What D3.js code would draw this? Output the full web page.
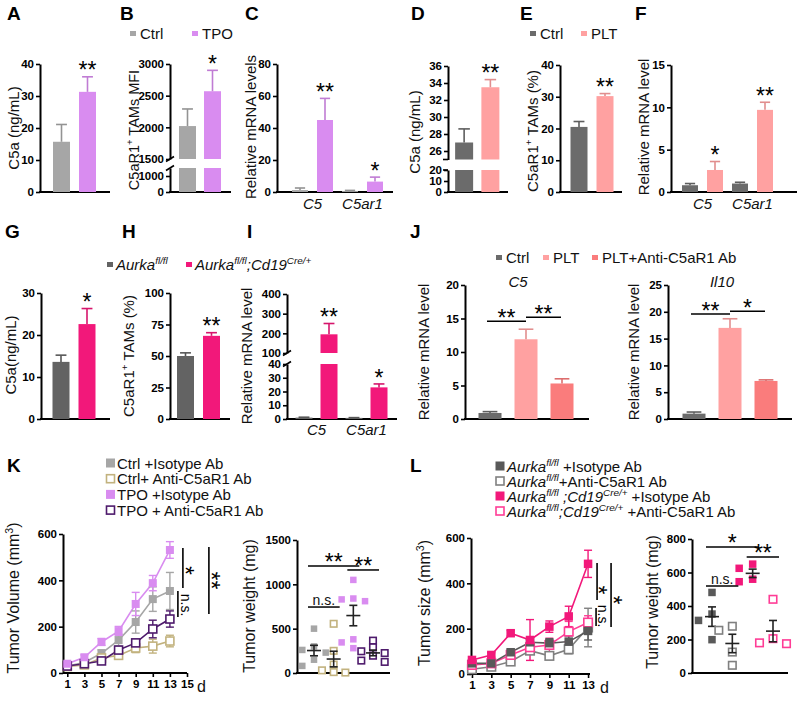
<!DOCTYPE html>
<html><head><meta charset="utf-8">
<script src="https://cdn.jsdelivr.net/npm/d3@7"></script>
<style>body{margin:0;background:#fff}svg{display:block}</style>
</head><body>
<svg id="chart" width="798" height="701"></svg>
<script>
// ================= DATA =================
const groupsTPO = ["Ctrl", "TPO"];
const groupsPLT = ["Ctrl", "PLT"];
const groupsAurka = ["Aurka fl/fl", "Aurka fl/fl;Cd19 Cre/+"];
const genes = ["C5", "C5ar1"];

const c5aA = [15.7, 31.3], c5aA_sem = [5.4, 4.7], c5aA_sig = ["", "**"];
const mfiB = [2020, 2570], mfiB_sem = [270, 330], mfiB_sig = ["", "*"];
const mrnaC_ctrl = [1.2, 0.6], mrnaC_ctrl_sem = [1.3, 0.4];
const mrnaC_tpo = [45, 6.5], mrnaC_tpo_sem = [13.5, 2.8], mrnaC_sig = ["**", "*"];
const c5aD = [27.0, 33.5], c5aD_sem = [1.6, 0.9], c5aD_sig = ["", "**"];
const tamE = [20.5, 30.2], tamE_sem = [1.7, 0.8], tamE_sig = ["", "**"];
const mrnaF_ctrl = [0.8, 1.0], mrnaF_ctrl_sem = [0.2, 0.15];
const mrnaF_plt = [2.6, 9.7], mrnaF_plt_sem = [1.0, 0.9], mrnaF_sig = ["*", "**"];
const c5aG = [13.6, 22.6], c5aG_sem = [1.6, 3.7], c5aG_sig = ["", "*"];
const tamH = [50, 66], tamH_sem = [2.5, 2.5], tamH_sig = ["", "**"];
const mrnaI_ctrl = [1.0, 0.8], mrnaI_ctrl_sem = [0.3, 0.2];
const mrnaI_cre = [195, 23], mrnaI_cre_sem = [55, 2.5], mrnaI_sig = ["**", "*"];
const groupsJ = ["Ctrl", "PLT", "PLT+Anti-C5aR1 Ab"];
const c5J = [0.9, 11.9, 5.3], c5J_sem = [0.2, 1.5, 0.7];
const il10J = [1.0, 17.0, 7.1], il10J_sem = [0.3, 1.7, 0.2];
const c5J_sig = [{a: 0, b: 1, level: 14.6, label: "**"}, {a: 1, b: 2, level: 15.2, label: "**"}];
const il10J_sig = [{a: 0, b: 1, level: 19.6, label: "**"}, {a: 1, b: 2, level: 20.1, label: "*"}];

const days = [1, 3, 5, 7, 9, 11, 13];
const seriesK = ["Ctrl +Isotype Ab", "Ctrl+ Anti-C5aR1 Ab", "TPO +Isotype Ab", "TPO + Anti-C5aR1 Ab"];
const volK_ctrlIso = [30, 45, 85, 142, 220, 319, 354], volK_ctrlIso_sem = [8, 10, 15, 25, 48, 53, 80];
const volK_ctrlAnti = [28, 35, 65, 76, 108, 116, 138], volK_ctrlAnti_sem = [5, 5, 10, 15, 20, 30, 25];
const volK_tpoIso = [40, 68, 134, 181, 298, 388, 531], volK_tpoIso_sem = [6, 10, 15, 20, 50, 33, 36];
const volK_tpoAnti = [30, 40, 52, 99, 130, 190, 233], volK_tpoAnti_sem = [5, 5, 8, 12, 15, 38, 35];
const wK_ctrlIso = [500, 300, 260, 230, 150, 80];
const wK_ctrlAnti = [555, 250, 95, 30, 10, 5];
const wK_tpoIso = [1050, 840, 830, 810, 380, 345, 280];
const wK_tpoAnti = [365, 290, 245, 225, 195, 140, 125];
const wK_sig = [{a: 0, b: 2, level: 1207, label: "**"}, {a: 2, b: 3, level: 1162, label: "**"}, {a: 0, b: 1, level: 744, label: "n.s."}];

const seriesL = ["Aurka fl/fl +Isotype Ab", "Aurka fl/fl+Anti-C5aR1 Ab", "Aurka fl/fl;Cd19 Cre/+ +Isotype Ab", "Aurka fl/fl;Cd19 Cre/+ +Anti-C5aR1 Ab"];
const volL_aurIso = [47, 47, 96, 140, 136, 143, 190], volL_aurIso_sem = [10, 8, 12, 15, 20, 25, 40];
const volL_aurAnti = [21, 32, 55, 103, 80, 109, 205], volL_aurAnti_sem = [5, 6, 8, 15, 15, 20, 85];
const volL_creIso = [62, 84, 180, 150, 209, 254, 486], volL_creIso_sem = [6, 10, 12, 90, 25, 45, 60];
const volL_creAnti = [40, 47, 84, 118, 128, 187, 227], volL_creAnti_sem = [5, 6, 10, 15, 30, 45, 30];
const wL_aurIso = [481, 352, 314, 199];
const wL_aurAnti = [279, 255, 125, 46];
const wL_creIso = [650, 625, 560, 545];
const wL_creAnti = [440, 205, 180, 175];
const wL_sig = [{a: 0, b: 2, level: 752, label: "*"}, {a: 2, b: 3, level: 692, label: "**"}, {a: 0, b: 1, level: 519, label: "n.s."}];

const ticksA = [0, 10, 20, 30, 40];
const ticksB_low = [0, 1000], ticksB_high = [1500, 2000, 2500, 3000];
const ticksC = [0, 20, 40, 60, 80];
const ticksD_low = [0, 10, 20], ticksD_high = [26, 28, 30, 32, 34, 36];
const ticksE = [0, 10, 20, 30, 40];
const ticksF = [0, 5, 10, 15];
const ticksG = [0, 10, 20, 30];
const ticksH = [0, 25, 50, 75, 100];
const ticksI_low = [0, 10, 20, 30, 40], ticksI_high = [100, 200, 300, 400];
const ticksJ_c5 = [0, 5, 10, 15, 20], ticksJ_il10 = [0, 5, 10, 15, 20, 25];
const ticksK_vol = [0, 200, 400, 600], ticksK_day = [1, 3, 5, 7, 9, 11, 13, 15];
const ticksK_w = [0, 500, 1000, 1500];
const ticksL_vol = [0, 200, 400, 600], ticksL_day = [1, 3, 5, 7, 9, 11, 13];
const ticksL_w = [0, 200, 400, 600, 800];

// ================= STYLE =================
const FONT = "'Liberation Sans', Arial, Helvetica, sans-serif";
const COL = {
  grayA: "#a6a6a6", tpo: "#d98cf0", dgray: "#6b6b6b", plt: "#ffa1a1", anti: "#fa7c7c",
  aur: "#636363", cre: "#f2187a", tan: "#c2b27e", purple: "#4e1a6c",
  lgrayOpen: "#808080", pinkOpen: "#ff3d96", aurL: "#595959"
};
const svg = d3.select("#chart");

function rich(t, parts, size) {
  let shift = 0;
  parts.forEach(p => {
    const ts = t.append("tspan").text(p.t);
    const target = p.sup ? -size * 0.38 : 0;
    if (target !== shift) { ts.attr("dy", target - shift); shift = target; }
    ts.attr("font-size", p.sup ? size * 0.66 : size);
    if (p.it) ts.attr("font-style", "italic");
  });
}
function addText(x, y, str, o = {}) {
  const size = o.size || 15;
  const t = svg.append("text").attr("x", x).attr("y", y)
    .attr("font-family", FONT).attr("font-size", size)
    .attr("font-weight", o.weight || "normal").attr("fill", o.fill || "#111")
    .attr("text-anchor", o.anchor || "start");
  if (o.italic) t.attr("font-style", "italic");
  if (o.dy) t.attr("dy", o.dy);
  if (o.rotate != null) t.attr("transform", `rotate(${o.rotate},${x},${y})`);
  if (Array.isArray(str)) rich(t, str, size); else t.text(str);
  return t;
}
function styleAxis(ax) {
  ax.select(".domain").attr("stroke", "#000").attr("stroke-width", 2);
  ax.selectAll(".tick line").attr("stroke", "#000").attr("stroke-width", 1.6);
  ax.selectAll(".tick text").attr("font-family", FONT).attr("font-size", 11.5)
    .attr("font-weight", "bold").attr("fill", "#000");
}
function yAxis(x, scale, ticks) {
  const ax = svg.append("g").attr("transform", `translate(${x},0)`)
    .call(d3.axisLeft(scale).tickValues(ticks).tickSize(4).tickSizeOuter(0).tickPadding(2).tickFormat(d3.format("d")));
  styleAxis(ax);
  return ax;
}
function hline(x1, x2, y, w = 2, c = "#000") {
  svg.append("line").attr("x1", x1).attr("x2", x2).attr("y1", y).attr("y2", y).attr("stroke", c).attr("stroke-width", w);
}
function vline(x, y1, y2, w = 1.6, c = "#000") {
  svg.append("line").attr("x1", x).attr("x2", x).attr("y1", y1).attr("y2", y2).attr("stroke", c).attr("stroke-width", w);
}
function star(x, y, label, rot) {
  const isStar = label.indexOf("*") >= 0;
  const t = addText(x, y, label, {size: isStar ? 23 : 14, anchor: "middle", dy: isStar ? "0.55em" : "0.3em", fill: "#000"});
  if (rot) t.attr("transform", `rotate(90,${x},${y})`);
}

// bar panel with optional broken axis
function barPanel(o) {
  const segs = o.segs.map(s => Object.assign({}, s, {sc: d3.scaleLinear().domain(s.domain).range(s.range)}));
  segs.forEach(s => yAxis(o.axisX, s.sc, s.ticks));
  if (segs.length > 1) {
    const yLowTop = segs[0].sc(segs[0].domain[1]), yHighBot = segs[1].sc(segs[1].domain[0]);
    [yLowTop, yHighBot].forEach(y => {
      if (o.brk === "flat") hline(o.axisX - 5, o.axisX, y, 1.6);
      else svg.append("line").attr("x1", o.axisX - 4).attr("x2", o.axisX + 4).attr("y1", y + 2.5).attr("y2", y - 2.5).attr("stroke", "#000").attr("stroke-width", 1.6);
    });
  }
  const base = segs[0].sc(segs[0].domain[0]);
  hline(o.axisX - 1, o.xEnd, base, 2);
  o.bars.forEach(b => {
    segs.forEach(s => {
      const lo = s.domain[0], hi = s.domain[1];
      if (b.v <= lo) return;
      const top = Math.min(b.v, hi);
      svg.append("rect").attr("x", b.cx - o.barW / 2).attr("width", o.barW)
        .attr("y", s.sc(top)).attr("height", s.sc(lo) - s.sc(top)).attr("fill", b.color);
    });
    const s = segs.find(s => b.v >= s.domain[0] && b.v <= s.domain[1]) || segs[segs.length - 1];
    const ec = d3.color(b.color).darker(0.35).formatHex();
    const yv = s.sc(b.v), ye = s.sc(b.v + b.e);
    vline(b.cx, yv, ye, 1.6, ec);
    hline(b.cx - o.barW * 0.32, b.cx + o.barW * 0.32, ye, 1.6, ec);
    if (b.sig) star(b.cx, ye - 11, b.sig);
  });
  return segs;
}
function twoBars(range, groups, vals, sems, sigs, colors) {
  const x = d3.scaleBand().domain(groups).range(range);
  return groups.map((g, i) => ({cx: x(g) + x.bandwidth() / 2, v: vals[i], e: sems[i], sig: sigs[i], color: colors[i]}));
}
function geneBars(range, groupKeys, ctrl, ctrlSem, trt, trtSem, sigs, colors) {
  const outer = d3.scaleBand().domain(genes).range(range);
  const inner = d3.scaleBand().domain(groupKeys).range([0, outer.bandwidth()]);
  const out = [];
  genes.forEach((g, i) => {
    out.push({cx: outer(g) + inner(groupKeys[0]) + inner.bandwidth() / 2, v: ctrl[i], e: ctrlSem[i], sig: "", color: colors[0]});
    out.push({cx: outer(g) + inner(groupKeys[1]) + inner.bandwidth() / 2, v: trt[i], e: trtSem[i], sig: sigs[i], color: colors[1]});
  });
  return {bars: out, outer};
}
function geneLabels(outer, y) {
  genes.forEach(g => addText(outer(g) + outer.bandwidth() / 2, y, g, {italic: true, anchor: "middle", size: 15}));
}
function legendSwatch(x, y, color, label, size = 15) {
  svg.append("rect").attr("x", x).attr("y", y - 3).attr("width", 6).attr("height", 5).attr("fill", color);
  addText(x + 10, y + 5, label, {size});
}
function panelLetter(x, y, l) { addText(x, y, l, {size: 19, weight: "bold", fill: "#000"}); }
function yTitle(x, y, str, size = 15) { addText(x, y, str, {size, anchor: "middle", rotate: -90}); }

// ================= ROW 1 =================
panelLetter(7, 20, "A"); panelLetter(120, 20, "B"); panelLetter(245, 20, "C");
panelLetter(411, 20, "D"); panelLetter(520, 20, "E"); panelLetter(635, 20, "F");

legendSwatch(130, 34, COL.grayA, "Ctrl"); legendSwatch(192, 34, COL.tpo, "TPO");
legendSwatch(530, 34, COL.dgray, "Ctrl"); legendSwatch(581, 34, COL.plt, "PLT");

// A
barPanel({axisX: 40, xEnd: 110, barW: 17,
  segs: [{domain: [0, 40], range: [192, 64], ticks: ticksA}],
  bars: twoBars([48.5, 100.5], groupsTPO, c5aA, c5aA_sem, c5aA_sig, [COL.grayA, COL.tpo])});
yTitle(19, 128, "C5a (ng/mL)");
// B
barPanel({axisX: 170, xEnd: 231, barW: 17, brk: "diag",
  segs: [{domain: [0, 1500], range: [192, 168], ticks: ticksB_low},
         {domain: [1500, 3000], range: [159, 64], ticks: ticksB_high}],
  bars: twoBars([175, 225], groupsTPO, mfiB, mfiB_sem, mfiB_sig, [COL.grayA, COL.tpo])});
yTitle(139, 130, [{t: "C5aR1"}, {t: "+", sup: true}, {t: " TAMs MFI"}], 14.5);
// C
{
  const gb = geneBars([287.5, 387.5], groupsTPO, mrnaC_ctrl, mrnaC_ctrl_sem, mrnaC_tpo, mrnaC_tpo_sem, mrnaC_sig, [COL.grayA, COL.tpo]);
  barPanel({axisX: 277, xEnd: 393, barW: 16, segs: [{domain: [0, 80], range: [192, 64], ticks: ticksC}], bars: gb.bars});
  geneLabels(gb.outer, 209);
  yTitle(256, 127, "Relative mRNA levels");
}
// D
barPanel({axisX: 448, xEnd: 508, barW: 18, brk: "flat",
  segs: [{domain: [0, 20], range: [192, 170], ticks: ticksD_low},
         {domain: [25, 36], range: [159.5, 66], ticks: ticksD_high}],
  bars: twoBars([451, 503.5], groupsPLT, c5aD, c5aD_sem, c5aD_sig, [COL.dgray, COL.plt])});
yTitle(420, 132, "C5a (ng/mL)");
// E
barPanel({axisX: 560, xEnd: 622, barW: 17,
  segs: [{domain: [0, 40], range: [192, 65], ticks: ticksE}],
  bars: twoBars([566, 618], groupsPLT, tamE, tamE_sem, tamE_sig, [COL.dgray, COL.plt])});
yTitle(538, 131, [{t: "C5aR1"}, {t: "+", sup: true}, {t: " TAMs (%)"}]);
// F
{
  const gb = geneBars([677.5, 777.5], groupsPLT, mrnaF_ctrl, mrnaF_ctrl_sem, mrnaF_plt, mrnaF_plt_sem, mrnaF_sig, [COL.dgray, COL.plt]);
  barPanel({axisX: 671, xEnd: 797, barW: 16, segs: [{domain: [0, 15], range: [192, 65], ticks: ticksF}], bars: gb.bars});
  geneLabels(gb.outer, 209);
  yTitle(649, 127, "Relative mRNA level");
}

// ================= ROW 2 =================
panelLetter(5, 238, "G"); panelLetter(122, 238, "H"); panelLetter(247, 238, "I"); panelLetter(410, 238, "J");
const aurLabel = [{t: "Aurka", it: true}, {t: "fl/fl", sup: true, it: true}];
const creLabel = [{t: "Aurka", it: true}, {t: "fl/fl", sup: true, it: true}, {t: ";", it: true}, {t: "Cd19", it: true}, {t: "Cre/+", sup: true, it: true}];
svg.append("rect").attr("x", 107).attr("y", 262).attr("width", 6).attr("height", 5).attr("fill", COL.aur);
addText(116, 270, aurLabel, {size: 15});
svg.append("rect").attr("x", 186).attr("y", 262).attr("width", 6).attr("height", 5).attr("fill", COL.cre);
addText(195, 270, creLabel, {size: 15});

// G
barPanel({axisX: 41, xEnd: 110, barW: 17,
  segs: [{domain: [0, 30], range: [419, 293], ticks: ticksG}],
  bars: twoBars([48, 100], groupsAurka, c5aG, c5aG_sem, c5aG_sig, [COL.aur, COL.cre])});
yTitle(16, 355, "C5a(ng/mL)");
// H
barPanel({axisX: 170, xEnd: 230, barW: 17,
  segs: [{domain: [0, 100], range: [419, 293], ticks: ticksH}],
  bars: twoBars([172.5, 224.5], groupsAurka, tamH, tamH_sem, tamH_sig, [COL.aur, COL.cre])});
yTitle(134, 356, [{t: "C5aR1"}, {t: "+", sup: true}, {t: " TAMs (%)"}]);
// I
{
  const gb = geneBars([291.5, 391.5], groupsAurka, mrnaI_ctrl, mrnaI_ctrl_sem, mrnaI_cre, mrnaI_cre_sem, mrnaI_sig, [COL.aur, COL.cre]);
  barPanel({axisX: 287, xEnd: 397, barW: 17, brk: "diag",
    segs: [{domain: [0, 40], range: [419, 364], ticks: ticksI_low},
           {domain: [100, 400], range: [353, 294], ticks: ticksI_high}], bars: gb.bars});
  geneLabels(gb.outer, 435);
  yTitle(252, 356, "Relative mRNA level");
}
// J legend
legendSwatch(496, 258, COL.dgray, groupsJ[0]);
legendSwatch(543, 258, COL.plt, groupsJ[1]);
legendSwatch(592, 258, COL.anti, groupsJ[2]);
function jPanel(axisX, range, xEnd, vals, sems, ticks, maxV, sigs, title) {
  const x = d3.scaleBand().domain(groupsJ).range(range);
  const bars = groupsJ.map((g, i) => ({cx: x(g) + x.bandwidth() / 2, v: vals[i], e: sems[i], sig: "", color: [COL.dgray, COL.plt, COL.anti][i]}));
  const segs = barPanel({axisX, xEnd, barW: 23, segs: [{domain: [0, maxV], range: [419, 285], ticks}], bars});
  const y = segs[0].sc;
  sigs.forEach((s, k) => {
    const xa = bars[s.a].cx - (k === 0 ? 3 : 0), xb = bars[s.b].cx - (k === 0 ? 0 : 1);
    hline(xa, xb, y(s.level), 1.5);
    star((xa + xb) / 2, y(s.level) - 8, s.label);
  });
  addText((range[0] + range[1]) / 2 - 8, 287, title, {italic: true, anchor: "middle", size: 15});
}
jPanel(465, [472, 580], 589, c5J, c5J_sem, ticksJ_c5, 20, c5J_sig, "C5");
yTitle(429, 352, "Relative mRNA level");
jPanel(668, [676, 784], 792, il10J, il10J_sem, ticksJ_il10, 25, il10J_sig, "Il10");
yTitle(639, 352, "Relative mRNA level");

// ================= ROW 3 =================
panelLetter(7, 472, "K"); panelLetter(410, 472, "L");

function marker(x, y, size, color, filled, sw = 1.6) {
  svg.append("rect").attr("x", x - size / 2).attr("y", y - size / 2).attr("width", size).attr("height", size)
    .attr("fill", filled ? color : "#fff").attr("stroke", color).attr("stroke-width", filled ? 0 : sw);
}
function linePanel(o) {
  yAxis(o.axisX, o.y, o.yTicks);
  const ax = svg.append("g").attr("transform", `translate(0,${o.y(0)})`)
    .call(d3.axisBottom(o.x).tickValues(o.xTicks).tickSize(4).tickSizeOuter(0).tickPadding(3).tickFormat(d3.format("d")));
  styleAxis(ax);
  ax.select(".domain").attr("d", `M${o.axisX},0H${o.x.range()[1]}`);
  addText(o.x.range()[1] + 10, o.y(0) + 19, "d", {size: 16});
  const line = d3.line().x((d, i) => o.x(days[i])).y(d => o.y(d));
  o.series.forEach(s => {
    svg.append("path").datum(s.vals).attr("d", line).attr("fill", "none").attr("stroke", s.color).attr("stroke-width", 1.6);
  });
  o.series.forEach(s => {
    s.vals.forEach((v, i) => {
      const cx = o.x(days[i]);
      vline(cx, o.y(v - s.sem[i]), o.y(v + s.sem[i]), 1.4, s.color);
      hline(cx - 4, cx + 4, o.y(v + s.sem[i]), 1.4, s.color);
      hline(cx - 4, cx + 4, o.y(v - s.sem[i]), 1.4, s.color);
    });
  });
  o.series.forEach(s => s.vals.forEach((v, i) => marker(o.x(days[i]), o.y(v), o.msize, s.color, s.filled)));
}
function dodge(vals, y, cx, size) {
  const placed = [], res = new Array(vals.length);
  const order = vals.map((v, i) => i).sort((a, b) => vals[b] - vals[a]);
  const offs = [0, -1, 1, -2, 2, -3, 3];
  order.forEach(i => {
    const yy = y(vals[i]);
    for (const k of offs) {
      const xx = cx + k * size * 0.9;
      if (!placed.some(p => Math.abs(p.x - xx) < size && Math.abs(p.y - yy) < size)) { placed.push({x: xx, y: yy}); res[i] = {x: xx, y: yy}; break; }
    }
  });
  return res;
}
function scatterPanel(o) {
  const y = d3.scaleLinear().domain(o.domain).range(o.range);
  yAxis(o.axisX, y, o.ticks);
  hline(o.axisX - 1, o.xEnd, y(0), 2);
  const x = d3.scalePoint().domain(o.groups.map((g, i) => i)).range(o.xRange);
  const centers = [];
  o.groups.forEach((g, i) => {
    const cx = x(i); centers.push(cx);
    dodge(g.vals, y, cx, o.msize).forEach(p => marker(p.x, p.y, o.msize, g.color, g.filled, 1.6));
    const m = d3.mean(g.vals), se = d3.deviation(g.vals) / Math.sqrt(g.vals.length);
    hline(cx - 7, cx + 7, y(m), 1.6, "#222");
    vline(cx, y(m - se), y(m + se), 1.6, "#222");
    hline(cx - 4, cx + 4, y(m + se), 1.6, "#222");
    hline(cx - 4, cx + 4, y(m - se), 1.6, "#222");
  });
  o.sig.forEach(s => {
    const xa = centers[s.a] - 6, xb = centers[s.b] + 6;
    hline(xa, xb, y(s.level), 1.5);
    if (s.label === "n.s.") addText((xa + xb) / 2, y(s.level) - 2, "n.s.", {size: 14, anchor: "middle"});
    else star((xa + xb) / 2, y(s.level) - 9, s.label);
  });
}

// K legend
const kColors = [COL.grayA, COL.tan, COL.tpo, COL.purple], kFilled = [true, false, true, false];
seriesK.forEach((s, i) => {
  const cy = 463 + i * 15.7;
  marker(110.5, cy, kFilled[i] ? 9 : 8, kColors[i], kFilled[i]);
  addText(117, cy + 5.5, s, {size: 15});
});
// K volume
{
  const x = d3.scaleLinear().domain([0.5, 15]).range([63, 187]);
  const y = d3.scaleLinear().domain([0, 600]).range([673, 534]);
  const ser = [
    {vals: volK_ctrlIso, sem: volK_ctrlIso_sem, color: COL.grayA, filled: true},
    {vals: volK_ctrlAnti, sem: volK_ctrlAnti_sem, color: COL.tan, filled: false},
    {vals: volK_tpoAnti, sem: volK_tpoAnti_sem, color: COL.purple, filled: false},
    {vals: volK_tpoIso, sem: volK_tpoIso_sem, color: COL.tpo, filled: true}];
  linePanel({axisX: 63, x, y, xTicks: ticksK_day, yTicks: ticksK_vol, series: ser, msize: 8});
  const xl = x(13);
  const last = a => y(a[a.length - 1]);
  vline(xl + 13, last(volK_tpoIso) - 2, last(volK_ctrlIso) - 3, 1.6);
  star(xl + 20, (last(volK_tpoIso) + last(volK_ctrlIso)) / 2, "*", true);
  vline(xl + 8, last(volK_ctrlIso), last(volK_tpoAnti) - 2, 1.6);
  star(xl + 15, (last(volK_ctrlIso) + last(volK_tpoAnti)) / 2, "n.s.", true);
  vline(xl + 39, last(volK_tpoIso) - 3, last(volK_tpoAnti) - 5, 1.6);
  star(xl + 46, (last(volK_tpoIso) + last(volK_tpoAnti)) / 2 - 4, "**", true);
  yTitle(19, 598, [{t: "Tumor Volume (mm"}, {t: "3", sup: true}, {t: ")"}], 16);
}
// K weight
scatterPanel({axisX: 297, xEnd: 390, domain: [0, 1500], range: [673, 540], ticks: ticksK_w, msize: 6.5,
  xRange: [314, 373],
  groups: [{vals: wK_ctrlIso, color: COL.grayA, filled: true}, {vals: wK_ctrlAnti, color: COL.tan, filled: false},
           {vals: wK_tpoIso, color: COL.tpo, filled: true}, {vals: wK_tpoAnti, color: COL.purple, filled: false}],
  sig: wK_sig});
yTitle(255, 606, "Tumor weight (mg)", 16);

// L legend
const lColors = [COL.aurL, COL.lgrayOpen, COL.cre, COL.pinkOpen], lFilled = [true, false, true, false];
const lLabels = [
  [{t: "Aurka", it: true}, {t: "fl/fl", sup: true, it: true}, {t: " +Isotype Ab"}],
  [{t: "Aurka", it: true}, {t: "fl/fl", sup: true, it: true}, {t: "+Anti-C5aR1 Ab"}],
  [{t: "Aurka", it: true}, {t: "fl/fl", sup: true, it: true}, {t: " ;", it: true}, {t: "Cd19", it: true}, {t: "Cre/+", sup: true, it: true}, {t: " +Isotype Ab"}],
  [{t: "Aurka", it: true}, {t: "fl/fl", sup: true, it: true}, {t: ";", it: true}, {t: "Cd19", it: true}, {t: "Cre/+", sup: true, it: true}, {t: " +Anti-C5aR1 Ab"}]];
seriesL.forEach((s, i) => {
  const cy = 466 + i * 15;
  marker(500, cy, lFilled[i] ? 9 : 8, lColors[i], lFilled[i]);
  addText(507, cy + 5.5, lLabels[i], {size: 15});
});
// L volume
{
  const x = d3.scaleLinear().domain([0.9, 13.2]).range([471, 590]);
  const y = d3.scaleLinear().domain([0, 600]).range([674, 538]);
  const ser = [
    {vals: volL_aurAnti, sem: volL_aurAnti_sem, color: COL.lgrayOpen, filled: false},
    {vals: volL_creAnti, sem: volL_creAnti_sem, color: COL.pinkOpen, filled: false},
    {vals: volL_aurIso, sem: volL_aurIso_sem, color: COL.aurL, filled: true},
    {vals: volL_creIso, sem: volL_creIso_sem, color: COL.cre, filled: true}];
  linePanel({axisX: 471, x, y, xTicks: ticksL_day, yTicks: ticksL_vol, series: ser, msize: 8.5});
  const xl = x(13);
  vline(xl + 9, 563, 600, 1.6); star(xl + 15, 590, "*", true);
  vline(xl + 8, 608, 626, 1.6); star(xl + 14, 616, "n.s.", true);
  vline(xl + 23, 563, 627, 1.6); star(xl + 30, 600, "*", true);
  yTitle(430, 603, [{t: "Tumor size (mm"}, {t: "3", sup: true}, {t: ")"}], 16);
}
// L weight
scatterPanel({axisX: 692, xEnd: 788, domain: [0, 800], range: [673, 539], ticks: ticksL_w, msize: 7.5,
  xRange: [712, 773],
  groups: [{vals: wL_aurIso, color: COL.aurL, filled: true}, {vals: wL_aurAnti, color: COL.lgrayOpen, filled: false},
           {vals: wL_creIso, color: COL.cre, filled: true}, {vals: wL_creAnti, color: COL.pinkOpen, filled: false}],
  sig: wL_sig});
yTitle(658, 602, "Tumor weight (mg)", 16);
</script>
</body></html>
